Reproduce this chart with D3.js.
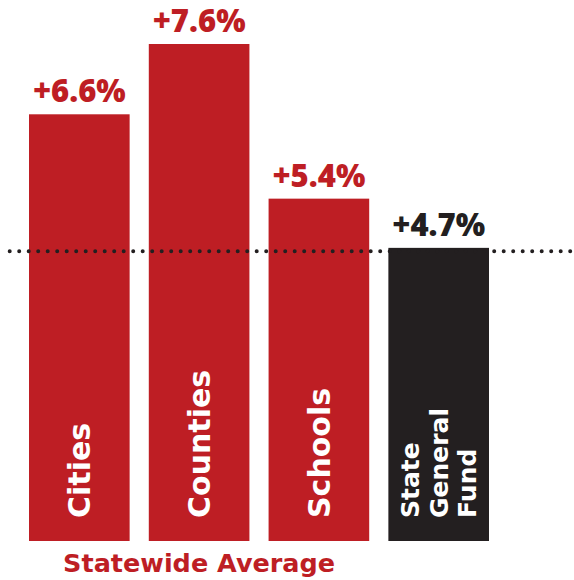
<!DOCTYPE html>
<html>
<head>
<meta charset="utf-8">
<script src="https://cdn.jsdelivr.net/npm/d3@7"></script>
<style>
    body { margin: 0; background: #fff; }
    #chart { width: 574px; height: 580px; }
</style>
</head>
<body>
<div id="chart"></div>
<script>

// data
const categories = ["Cities", "Counties", "Schools", "State General Fund"];
const growth = [6.6, 7.6, 5.4, 4.7];
const labelLines = [["Cities"], ["Counties"], ["Schools"], ["State", "General", "Fund"]];
const groupTitle = "Statewide Average";

let width = 574, height = 580;

let svg = d3.select("#chart").append("svg")
    .attr("width", width)
    .attr("height", height);

let red = "#be1e24", dark = "#231f20";
let color = d3.scaleOrdinal()
    .domain(categories)
    .range([red, red, red, dark]);

let x = d3.scaleBand()
    .domain(categories)
    .range([29, 489])
    .paddingInner(0.16);

// baseline of the bars is not at zero in the original
let y = d3.scaleLinear()
    .domain([0.53, 7.6])
    .range([541, 44]);

let fmt = v => d3.format("+.1f")(v) + "%";

let bars = svg.append("g").attr("class", "bars");

bars.selectAll("rect")
    .data(categories)
    .enter().append("rect")
    .attr("x", d => x(d))
    .attr("y", (d, i) => y(growth[i]))
    .attr("width", x.bandwidth())
    .attr("height", (d, i) => y.range()[0] - y(growth[i]))
    .attr("fill", d => color(d));

// dotted reference line at the state general fund level, drawn over the bars
let refY = y(growth[3]) + 3.3;
svg.append("line")
    .attr("x1", 9.7)
    .attr("x2", width)
    .attr("y1", refY)
    .attr("y2", refY)
    .attr("stroke", dark)
    .attr("stroke-width", 4)
    .attr("stroke-linecap", "round")
    .attr("stroke-dasharray", "0 9.5");

// value labels
svg.append("g").selectAll("text")
    .data(categories)
    .enter().append("text")
    .attr("x", d => x(d) + x.bandwidth() / 2)
    .attr("y", (d, i) => y(growth[i]) - 12)
    .attr("text-anchor", "middle")
    .attr("fill", d => color(d))
    .style("font-family", "'Open Sans', sans-serif")
    .style("font-weight", 800)
    .style("font-size", "31px")
    .text((d, i) => fmt(growth[i]));

// rotated category labels inside the bars
let labels = svg.append("g").selectAll("text")
    .data(categories)
    .enter().append("text")
    .attr("transform", d => "translate(" + (x(d) + x.bandwidth() / 2) + ",518) rotate(-90)")
    .attr("fill", "#fff")
    .style("font-family", "'DejaVu Sans', sans-serif")
    .style("font-weight", "bold")
    .style("font-size", (d, i) => labelLines[i].length > 1 ? "25px" : "30px");

labels.each(function(d, i) {
    let lines = labelLines[i];
    let fs = lines.length > 1 ? 25 : 30;
    let gap = 28.5;
    d3.select(this).selectAll("tspan")
        .data(lines)
        .enter().append("tspan")
        .attr("x", 0)
        .attr("y", (l, j) => (j - (lines.length - 1) / 2) * gap + fs * 0.36)
        .text(l => l);
});

// group title under the red bars
svg.append("text")
    .attr("x", (x(categories[0]) + x(categories[2]) + x.bandwidth()) / 2)
    .attr("y", 572)
    .attr("text-anchor", "middle")
    .attr("fill", red)
    .style("font-family", "'DejaVu Sans', sans-serif")
    .style("font-weight", "bold")
    .style("font-size", "25.5px")
    .text(groupTitle);

</script>
</body>
</html>
